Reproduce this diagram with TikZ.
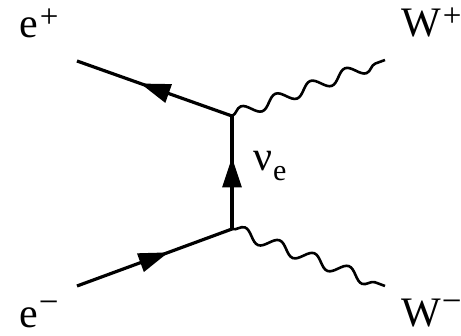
\documentclass[tikz,border=0pt]{standalone}
\usepackage{fontspec}
\setmainfont{Liberation Serif}
\newfontfamily\tms{Liberation Serif}
\usetikzlibrary{decorations.pathmorphing,decorations.markings,arrows.meta}
\newcommand\plussign{\kern2pt\raisebox{10pt}{\fontsize{33}{33}\selectfont +}}
\newcommand\minussign{\kern1pt\raisebox{14pt}{\fontsize{35}{35}\selectfont −}}
\tikzset{
  fermion/.style={line width=3.2pt, postaction={decorate},
    decoration={markings, mark=at position 0.5 with {\arrow[xshift=15pt]{Triangle[length=30pt,width=19pt]}}}},
  boson/.style={line width=2.6pt, decorate,
    decoration={snake, amplitude=6pt, segment length=37pt}},
  lab/.style={inner sep=0pt, anchor=base west, font=\tms\fontsize{42}{46}\selectfont}
}
\begin{document}
\begin{tikzpicture}[x=1pt,y=-1pt]
\useasboundingbox (0,0) rectangle (461,336);
\coordinate (v1) at (232,116);
\coordinate (v2) at (232,229);
\coordinate (a) at (77,61);
\coordinate (b) at (77,286);
\coordinate (wp) at (385,60);
\coordinate (wm) at (385,286);
\draw[fermion] (v1) -- (a);
\draw[fermion] (b) -- (v2);
\draw[fermion] (v2) -- (v1);
\draw[boson] (v1) -- (wp);
\draw[boson] (v2) -- (wm);
\node[lab] (ep) at (19,38) {e\plussign};
\node[lab] (em) at (19,328) {e\minussign};
\node[lab] (Wp) at (401,37) {W\plussign};
\node[lab] (Wm) at (401,327) {W\minussign};
\node[lab] (nu) at (253,171) {ν\kern1pt\raisebox{-10pt}{\fontsize{30}{30}\selectfont e}};
\end{tikzpicture}
\end{document}
